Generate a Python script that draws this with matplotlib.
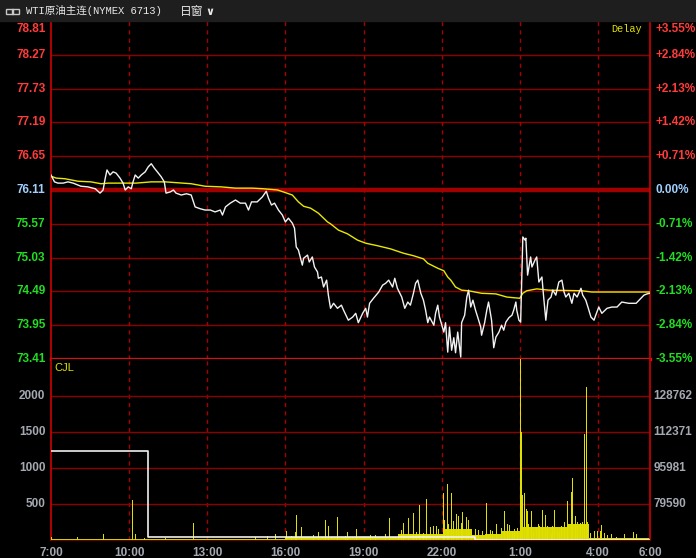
import matplotlib.pyplot as plt
from matplotlib.patches import Rectangle

# time in minutes from 7:00
price_t = [0, 8, 16, 28, 39, 51, 62, 69, 85, 102, 113, 120, 125, 129, 136, 143, 150, 159, 166, 171,
           178, 185, 189, 194, 201, 208, 217, 224, 231, 238, 245, 254, 261, 265, 275, 282, 288, 300,
           312, 323, 332, 344, 355, 367, 378, 390, 395, 402, 413, 425, 436, 448, 455, 462, 475, 487,
           496, 501, 508, 515, 524, 533, 540, 547, 556, 561, 565, 570, 579, 582, 591, 595, 602, 607,
           614, 616, 623, 628, 635, 639, 644, 651, 660, 669, 674, 685, 695, 702, 708, 718, 725, 729,
           734, 743, 755, 764, 771, 778, 787, 792, 798, 808, 815, 822, 828, 835, 840, 845, 852, 858,
           863, 868, 872, 882, 886, 891, 895, 905, 909, 914, 918, 923, 928, 932, 937, 944, 946, 953,
           958, 962, 967, 972, 978, 983, 990, 992, 999, 1004, 1008, 1015, 1020, 1025, 1032, 1038,
           1043, 1048, 1055, 1062, 1066, 1071, 1073, 1078, 1082, 1085, 1087, 1092, 1094, 1098, 1105,
           1108, 1115, 1119, 1124, 1131, 1135, 1140, 1145, 1152, 1156, 1163, 1170, 1177, 1182, 1186,
           1193, 1200, 1205, 1212, 1221, 1225, 1232, 1237, 1244, 1251, 1255, 1262, 1269, 1281, 1292,
           1304, 1315, 1331, 1348, 1359, 1366, 1373, 1380]
price = [76.35, 76.24, 76.22, 76.22, 76.24, 76.22, 76.19, 76.17, 76.16, 76.13, 76.06, 76.11, 76.30,
         76.43, 76.35, 76.40, 76.38, 76.30, 76.22, 76.11, 76.16, 76.13, 76.24, 76.35, 76.30, 76.35,
         76.40, 76.48, 76.53, 76.46, 76.40, 76.32, 76.24, 76.06, 76.08, 76.11, 76.06, 76.03, 76.05,
         76.03, 75.84, 75.81, 75.79, 75.79, 75.76, 75.79, 75.71, 75.84, 75.90, 75.95, 75.90, 75.90,
         75.79, 75.92, 75.92, 76.00, 76.09, 75.98, 75.87, 75.90, 75.79, 75.71, 75.60, 75.66, 75.58,
         75.50, 75.20, 75.15, 74.91, 75.02, 75.07, 74.96, 75.04, 74.88, 74.80, 74.70, 74.72, 74.56,
         74.67, 74.43, 74.22, 74.30, 74.22, 74.27, 74.19, 74.03, 74.08, 74.14, 73.99, 74.14, 74.22,
         74.08, 74.30, 74.38, 74.48, 74.59, 74.62, 74.67, 74.56, 74.70, 74.54, 74.40, 74.22, 74.32,
         74.27, 74.46, 74.62, 74.67, 74.46, 74.35, 74.19, 73.99, 74.08, 73.95, 74.14, 74.27, 74.08,
         73.84, 73.99, 73.52, 73.92, 73.55, 73.75, 73.51, 73.84, 73.44, 73.99, 74.11, 74.40, 74.51,
         74.24, 74.35, 74.19, 74.08, 73.92, 73.79, 73.99, 74.19, 74.32, 74.03, 73.59, 73.76, 73.84,
         73.95, 73.87, 74.00, 74.07, 74.11, 74.19, 74.32, 74.19, 74.03, 74.00, 74.83, 75.36, 75.31,
         75.34, 74.75, 75.04, 74.88, 74.99, 75.04, 74.64, 74.72, 74.40, 74.03, 74.35, 74.40, 74.51,
         74.43, 74.64, 74.67, 74.48, 74.40, 74.46, 74.30, 74.46, 74.40, 74.54, 74.43, 74.35, 74.24,
         74.08, 74.03, 74.11, 74.24, 74.14, 74.22, 74.24, 74.24, 74.32, 74.30, 74.30, 74.38, 74.43,
         74.45, 74.46]

avg_t = [0, 12, 32, 62, 92, 115, 132, 171, 196, 231, 263, 323, 355, 392, 425, 464, 489, 522, 535,
         556, 570, 582, 598, 616, 637, 644, 662, 683, 706, 725, 752, 782, 812, 835, 858, 868, 891,
         905, 914, 921, 932, 946, 962, 992, 1025, 1050, 1080, 1087, 1096, 1119, 1147, 1223, 1246, 1380]
avg = [76.33, 76.30, 76.29, 76.25, 76.24, 76.21, 76.22, 76.22, 76.22, 76.24, 76.24, 76.21, 76.17,
       76.16, 76.14, 76.14, 76.13, 76.11, 76.08, 76.03, 75.92, 75.85, 75.82, 75.74, 75.60, 75.57,
       75.47, 75.41, 75.31, 75.26, 75.22, 75.17, 75.10, 75.06, 75.01, 74.94, 74.86, 74.82, 74.72,
       74.67, 74.56, 74.51, 74.50, 74.46, 74.45, 74.40, 74.38, 74.46, 74.50, 74.53, 74.51, 74.50,
       74.48, 74.48]

vol_t = [2, 60, 122, 187, 194, 215, 263, 328, 471, 498, 517, 542, 554, 563, 565, 577, 605, 616, 632,
         639, 660, 678, 683, 704, 736, 748, 771, 780, 801, 808, 812, 824, 835, 842, 849, 858, 865,
         875, 882, 888, 893, 905, 907, 914, 916, 923, 928, 934, 939, 946, 948, 958, 962, 969, 978,
         985, 995, 1004, 1013, 1018, 1027, 1038, 1045, 1052, 1057, 1064, 1068, 1075, 1082, 1085,
         1087, 1092, 1096, 1098, 1101, 1108, 1112, 1119, 1122, 1126, 1133, 1140, 1145, 1152, 1156,
         1161, 1168, 1172, 1177, 1184, 1191, 1198, 1202, 1209, 1214, 1221, 1225, 1230, 1233, 1237,
         1242, 1251, 1258, 1265, 1269, 1276, 1283, 1292, 1302, 1322, 1341, 1348, 1366]
vol = [40, 40, 80, 555, 85, 25, 25, 240, 40, 50, 90, 120, 60, 110, 350, 180, 70, 110, 280, 190, 320,
       60, 110, 150, 70, 70, 80, 300, 80, 140, 235, 300, 370, 110, 485, 100, 570, 180, 190, 200, 150,
       650, 280, 780, 220, 650, 260, 360, 330, 240, 390, 320, 280, 120, 150, 140, 120, 515, 140, 130,
       220, 160, 400, 220, 210, 130, 150, 170, 2600, 1500, 620, 650, 430, 400, 220, 400, 120, 170,
       220, 200, 415, 350, 200, 90, 200, 415, 120, 110, 200, 250, 540, 665, 860, 330, 250, 240, 250,
       1470, 2120, 250, 100, 120, 120, 120, 210, 100, 70, 80, 40, 80, 110, 80, 30]

base_t = [0, 540, 800, 905, 970, 1000, 1040, 1082, 1190, 1240, 1380]
base_v = [20, 40, 90, 150, 70, 90, 120, 180, 220, 30, 30]

oi_t = [0, 224, 976, 1380]
oi_v = [1236, 40, 5, 5]

price_ticks = [78.81, 78.27, 77.73, 77.19, 76.65, 76.11, 75.57, 75.03, 74.49, 73.95, 73.41]
pct_labels = ['+3.55%', '+2.84%', '+2.13%', '+1.42%', '+0.71%', '0.00%',
              '-0.71%', '-1.42%', '-2.13%', '-2.84%', '-3.55%']
vol_ticks = [500, 1000, 1500, 2000]
vol_right = ['79590', '95981', '112371', '128762']
time_ticks = [0, 180, 360, 540, 720, 900, 1080, 1260, 1380]
time_labels = ['7:00', '10:00', '13:00', '16:00', '19:00', '22:00', '1:00', '4:00', '6:00']

W, H = 696, 558
RED = '#ff3b3b'
GRN = '#22dd22'
BLU = '#9fd0ff'
GRY = '#a4a8b0'
GRID = '#8e0000'
FRAME = '#d00000'

plt.rcParams['font.family'] = ['Liberation Sans', 'DejaVu Sans']

fig = plt.figure(figsize=(W / 100, H / 100), dpi=100, facecolor='black')
ax = fig.add_axes([51 / W, (H - 359) / H, 599 / W, 338 / H], facecolor='black')
axv = fig.add_axes([51 / W, (H - 540) / H, 599 / W, 181 / H], facecolor='black', sharex=ax)

# title bar
fig.patches.append(Rectangle((0, (H - 21) / H), 1, 21 / H, transform=fig.transFigure,
                             color='#1e1e1e', zorder=0))
fig.patches.append(Rectangle((6 / W, (H - 14) / H), 7 / W, 5 / H, transform=fig.transFigure,
                             fill=False, ec='#c8c8c8', lw=1))
fig.patches.append(Rectangle((12 / W, (H - 14) / H), 7 / W, 5 / H, transform=fig.transFigure,
                             fill=False, ec='#c8c8c8', lw=1))
fig.text(26 / W, 1 - 11 / H, 'WTI原油主连(NYMEX 6713)', color='#e8e8e8', fontsize=7.6,
         family=['Liberation Mono', 'Noto Sans CJK SC'], va='center', ha='left')
fig.text(180 / W, 1 - 11 / H, '日窗', color='#e8e8e8', fontsize=8.5,
         family=['Noto Sans CJK SC'], va='center', ha='left')
fig.text(205 / W, 1 - 12 / H, '∨', color='#e8e8e8', fontsize=8, fontweight='bold',
         family=['DejaVu Sans'], va='center', ha='left')

# price panel
ax.set_xlim(0, 1380)
ax.set_ylim(price_ticks[-1], price_ticks[0])
for v in price_ticks[1:-1]:
    if v == 76.11:
        ax.axhline(v, color='#a00000', lw=3.2, zorder=1)
    else:
        ax.axhline(v, color=GRID, lw=1, zorder=1)
for t in time_ticks[1:-1]:
    ax.axvline(t, color='#a80000', lw=1, ls=(0, (3, 3)), zorder=1)
    axv.axvline(t, color='#a80000', lw=1, ls=(0, (3, 3)), zorder=1)

ax.plot(avg_t, avg, color='#e8e800', lw=1, zorder=3)
ax.plot(price_t, price, color='#f2f2f2', lw=1, zorder=4)

ax.set_xticks([])
ax.set_yticks([])
for s in ['left', 'right', 'top']:
    ax.spines[s].set_color(FRAME)
    ax.spines[s].set_linewidth(1.2)
ax.spines['bottom'].set_color('#d81010')
ax.spines['bottom'].set_linewidth(2.4)
ax.spines['bottom'].set_zorder(6)

for i, (v, lab) in enumerate(zip(price_ticks, pct_labels)):
    c = RED if v > 76.11 else (BLU if v == 76.11 else GRN)
    dy = -5.8 if i == 0 else 0
    ax.annotate(f'{v:.2f}', xy=(0, v), xycoords=ax.get_yaxis_transform(),
                xytext=(-4, dy), textcoords='offset points', ha='right', va='center',
                color=c, fontsize=8.5, fontweight='bold', annotation_clip=False)
    ax.annotate(lab, xy=(1, v), xycoords=ax.get_yaxis_transform(),
                xytext=(4, dy), textcoords='offset points', ha='left', va='center',
                color=c, fontsize=8.5, fontweight='bold', annotation_clip=False)

ax.text(0.935, 0.975, 'Delay', transform=ax.transAxes, color='#e0e000', fontsize=7.4,
        family=['Liberation Mono'], ha='left', va='center')

# volume panel
axv.set_ylim(0, 2514)
for v in vol_ticks:
    axv.axhline(v, color=GRID, lw=1, zorder=1)
axv.fill_between(base_t, base_v, step='post', color='#dada00', lw=0, zorder=2)
axv.bar(vol_t, vol, width=2.3, color='#e0e000', lw=0, zorder=3)
axv.plot(oi_t, oi_v, drawstyle='steps-post', color='#f0f0f0', lw=1.2, zorder=4)
axv.text(0.006, 0.95, 'CJL', transform=axv.transAxes, color='#e0e000', fontsize=8,
         ha='left', va='center')

axv.set_yticks([])
axv.set_xticks(time_ticks)
axv.set_xticklabels(time_labels, color=GRY, fontsize=8.5, fontweight='bold')
axv.tick_params(axis='x', length=0, pad=5)
for v, lab in zip(vol_ticks, vol_right):
    axv.annotate(str(v), xy=(0, v), xycoords=axv.get_yaxis_transform(),
                 xytext=(-4, 0), textcoords='offset points', ha='right', va='center',
                 color=GRY, fontsize=8.5, fontweight='bold', annotation_clip=False)
    axv.annotate(lab, xy=(1, v), xycoords=axv.get_yaxis_transform(),
                 xytext=(2.5, 0), textcoords='offset points', ha='left', va='center',
                 color=GRY, fontsize=8.5, fontweight='bold', annotation_clip=False)
for s in ['left', 'right']:
    axv.spines[s].set_color(FRAME)
    axv.spines[s].set_linewidth(1.2)
axv.spines['top'].set_visible(False)
axv.spines['bottom'].set_color('#600000')

fig.savefig('out.png', dpi=100, facecolor='black')
